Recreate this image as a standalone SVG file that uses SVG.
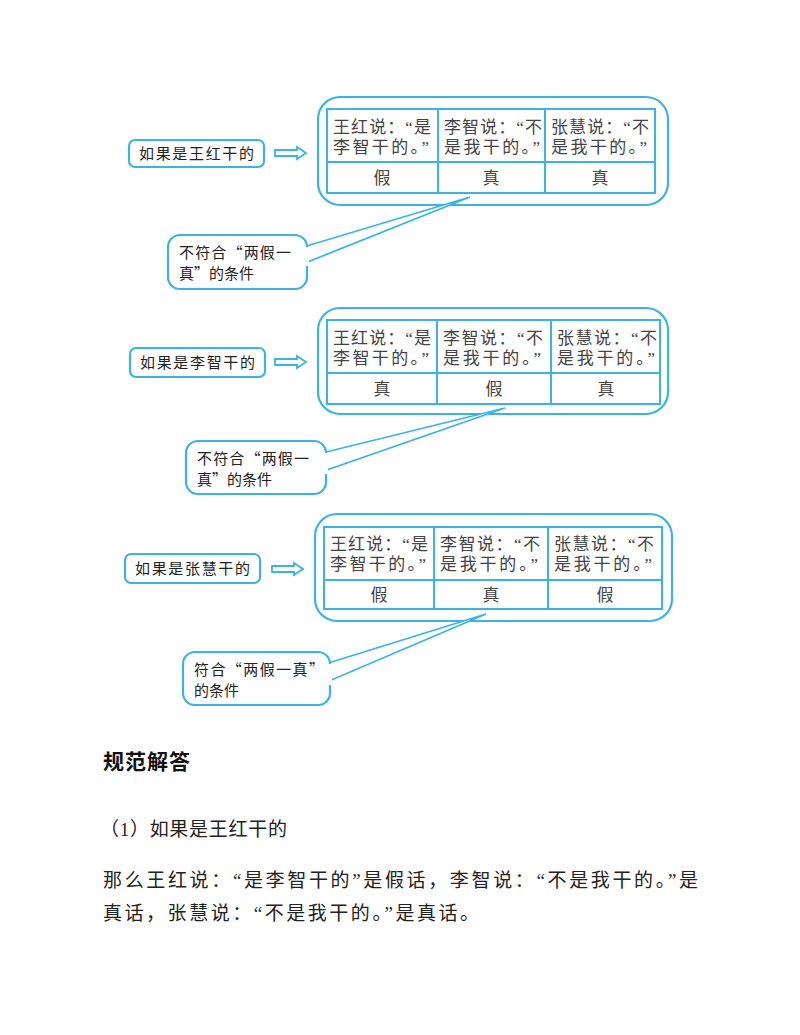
<svg xmlns="http://www.w3.org/2000/svg" width="800" height="1035" viewBox="0 0 800 1035">
<style>
.b{fill:#fff;stroke:#3bb4e5;stroke-width:2.2}
.t{fill:none;stroke:#3bb4e5;stroke-width:2}
.s{font-family:"Noto Sans CJK SC",sans-serif;font-size:15px;fill:#222}
.r{font-family:"Liberation Serif","Noto Sans CJK SC",serif;font-size:17px;fill:#444}
.c{text-anchor:middle}
.p{font-family:"Liberation Serif","Noto Sans CJK SC",serif;font-size:19px;fill:#222}
</style>
<rect width="800" height="1035" fill="#fff"/>
<defs>
<g id="arw"><path d="M0,-3 H22 V-6 L31,0 L22,6 V3 H0 Z" fill="#fff" stroke="#3bb4e5" stroke-width="1.8"/></g>
</defs>
<g id="connectors">
<use href="#arw" x="275" y="153"/>
<use href="#arw" x="275" y="362"/>
<use href="#arw" x="272" y="569"/>
</g>
<g id="block1">
<rect class="b" x="318" y="97" width="350" height="108" rx="22"/>
<rect class="t" x="327" y="109" width="328" height="84"/>
<path class="t" d="M327,162H655M438,109V193M545,109V193"/>
<text class="r" x="333" y="133" textLength="98">王红说：“是</text><text class="r" x="333" y="153" textLength="96">李智干的。”</text>
<text class="r" x="444" y="133" textLength="98">李智说：“不</text><text class="r" x="444" y="153" textLength="96">是我干的。”</text>
<text class="r" x="551" y="133" textLength="98">张慧说：“不</text><text class="r" x="551" y="153" textLength="96">是我干的。”</text>
<text class="r c" x="382" y="184">假</text><text class="r c" x="491" y="184">真</text><text class="r c" x="600" y="184">真</text>
</g>
<g id="label1"><rect class="b" x="129" y="140" width="135" height="27" rx="6"/><text class="s" x="139" y="159" textLength="115">如果是王红干的</text></g>
<g id="callout1">
<path d="M300,248L470,197L300,265Z" fill="#fff" stroke="#3bb4e5" stroke-width="1.8"/>
<rect class="b" x="168" y="235" width="139" height="54" rx="12"/>
<rect x="295" y="247" width="14" height="19" fill="#fff"/>
<text class="s" x="179" y="258" textLength="112">不符合“两假一</text><text class="s" x="179" y="279">真”的条件</text>
</g>
<g id="block2">
<rect class="b" x="318" y="308" width="350" height="106" rx="22"/>
<rect class="t" x="327" y="320" width="333" height="84"/>
<path class="t" d="M327,373H660M437,320V404M551,320V404"/>
<text class="r" x="333" y="344" textLength="98">王红说：“是</text><text class="r" x="333" y="364" textLength="96">李智干的。”</text>
<text class="r" x="443" y="344" textLength="100">李智说：“不</text><text class="r" x="443" y="364" textLength="98">是我干的。”</text>
<text class="r" x="557" y="344" textLength="100">张慧说：“不</text><text class="r" x="557" y="364" textLength="98">是我干的。”</text>
<text class="r c" x="382" y="395">真</text><text class="r c" x="494" y="395">假</text><text class="r c" x="606" y="395">真</text>
</g>
<g id="label2"><rect class="b" x="130" y="348" width="135" height="29" rx="6"/><text class="s" x="140" y="368" textLength="115">如果是李智干的</text></g>
<g id="callout2">
<path d="M318,454L505,408L318,473Z" fill="#fff" stroke="#3bb4e5" stroke-width="1.8"/>
<rect class="b" x="186" y="441" width="140" height="53" rx="12"/>
<rect x="314" y="453" width="14" height="21" fill="#fff"/>
<text class="s" x="197" y="464" textLength="112">不符合“两假一</text><text class="s" x="197" y="485">真”的条件</text>
</g>
<g id="block3">
<rect class="b" x="315" y="514" width="357" height="107" rx="22"/>
<rect class="t" x="324" y="527" width="338" height="82"/>
<path class="t" d="M324,580H662M434,527V609M548,527V609"/>
<text class="r" x="330" y="550" textLength="98">王红说：“是</text><text class="r" x="330" y="570" textLength="96">李智干的。”</text>
<text class="r" x="440" y="550" textLength="100">李智说：“不</text><text class="r" x="440" y="570" textLength="98">是我干的。”</text>
<text class="r" x="554" y="550" textLength="100">张慧说：“不</text><text class="r" x="554" y="570" textLength="98">是我干的。”</text>
<text class="r c" x="379" y="601">假</text><text class="r c" x="491" y="601">真</text><text class="r c" x="605" y="601">假</text>
</g>
<g id="label3"><rect class="b" x="125" y="554" width="135" height="29" rx="6"/><text class="s" x="135" y="574" textLength="115">如果是张慧干的</text></g>
<g id="callout3">
<path d="M322,665L486,614L322,684Z" fill="#fff" stroke="#3bb4e5" stroke-width="1.8"/>
<rect class="b" x="183" y="652" width="147" height="53" rx="12"/>
<rect x="318" y="664" width="14" height="21" fill="#fff"/>
<text class="s" x="194" y="675" textLength="130">符合“两假一真”</text><text class="s" x="194" y="696">的条件</text>
</g>
<text x="103" y="769" font-family="Noto Sans CJK SC,sans-serif" font-size="21" font-weight="bold" fill="#111" textLength="87">规范解答</text>
<text class="p" x="100" y="836" textLength="187">（1）如果是王红干的</text>
<text class="p" x="103" y="887" textLength="595">那么王红说：“是李智干的”是假话，李智说：“不是我干的。”是</text>
<text class="p" x="103" y="920" textLength="376">真话，张慧说：“不是我干的。”是真话。</text>
</svg>
